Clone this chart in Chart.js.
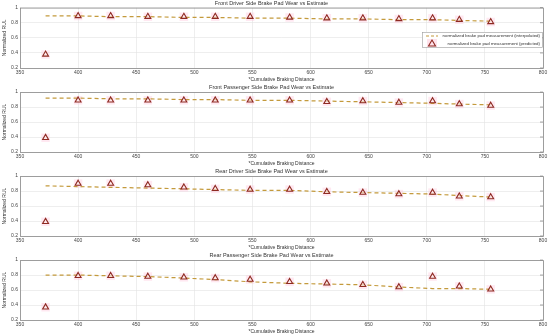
<!DOCTYPE html>
<html lang="en">
<head>
<meta charset="UTF-8">
<title>Brake Pad Wear vs Estimate</title>
<script src="https://cdn.jsdelivr.net/npm/chart.js"></script>
<style>
  body { margin: 0; background: #fff; }
  #wrap { position: relative; width: 550px; height: 336px; }
  .panel { position: absolute; left: 0; width: 550px; height: 84px; }
</style>
</head>
<body>
<div id="wrap">
  <div class="panel" style="top:0px"><canvas id="c0"></canvas></div>
  <div class="panel" style="top:84px"><canvas id="c1"></canvas></div>
  <div class="panel" style="top:168px"><canvas id="c2"></canvas></div>
  <div class="panel" style="top:252px"><canvas id="c3"></canvas></div>
</div>
<script>
// braking distance where each estimate was taken
var distance = [372, 400, 428, 460, 491, 518, 548, 582, 614, 645, 676, 705, 728, 755];
var xTicks = [350, 400, 450, 500, 550, 600, 650, 700, 750, 800];
var yTicks = [0.2, 0.4, 0.6, 0.8, 1];

var titles = [
    'Front Driver Side Brake Pad Wear vs Estimate',
    'Front Passenger Side Brake Pad Wear vs Estimate',
    'Rear Driver Side Brake Pad Wear vs Estimate',
    'Rear Passenger Side Brake Pad Wear vs Estimate'
];

var frontDriverInterp = [0.89, 0.89, 0.88, 0.88, 0.87, 0.87, 0.86, 0.86, 0.85, 0.85, 0.84, 0.84, 0.83, 0.82];
var frontDriverPred   = [0.38, 0.89, 0.89, 0.88, 0.88, 0.88, 0.88, 0.87, 0.86, 0.86, 0.85, 0.86, 0.84, 0.81];

var frontPassInterp = [0.92, 0.92, 0.91, 0.91, 0.90, 0.90, 0.89, 0.89, 0.88, 0.87, 0.86, 0.85, 0.84, 0.83];
var frontPassPred   = [0.39, 0.89, 0.89, 0.89, 0.89, 0.89, 0.89, 0.89, 0.87, 0.88, 0.86, 0.88, 0.84, 0.82];

var rearDriverInterp = [0.87, 0.86, 0.85, 0.84, 0.83, 0.82, 0.81, 0.81, 0.79, 0.78, 0.77, 0.76, 0.74, 0.72];
var rearDriverPred   = [0.39, 0.90, 0.90, 0.88, 0.85, 0.83, 0.82, 0.82, 0.79, 0.78, 0.76, 0.78, 0.73, 0.72];

var rearPassInterp = [0.80, 0.80, 0.79, 0.78, 0.76, 0.74, 0.71, 0.69, 0.68, 0.67, 0.64, 0.62, 0.62, 0.61];
var rearPassPred   = [0.37, 0.79, 0.79, 0.78, 0.77, 0.76, 0.74, 0.71, 0.69, 0.67, 0.64, 0.78, 0.65, 0.61];

var series = [
    [frontDriverInterp, frontDriverPred],
    [frontPassInterp, frontPassPred],
    [rearDriverInterp, rearDriverPred],
    [rearPassInterp, rearPassPred]
];

var FONT = 'Liberation Sans';
var lineColor = '#c49a3c';
var triColor = '#8e2a22';

function toPoints(vals) {
    return distance.map(function(d, i) { return {x: d, y: vals[i]}; });
}

// box around the plot area, like matlab axes
var boxPlugin = {
    id: 'box',
    afterDraw: function(chart) {
        var a = chart.chartArea, ctx = chart.ctx;
        ctx.save();
        ctx.strokeStyle = '#8a8a8a';
        ctx.lineWidth = 0.8;
        ctx.strokeRect(a.left + 0.5, a.top + 0.5, a.right - a.left, a.bottom - a.top);
        // small tick marks on the right side
        var ys = chart.scales.y;
        yTicks.forEach(function(v) {
            var py = ys.getPixelForValue(v);
            ctx.beginPath();
            ctx.moveTo(a.right - 3, py);
            ctx.lineTo(a.right, py);
            ctx.stroke();
        });
        ctx.restore();
    }
};

// legend drawn inside the first panel
var legendPlugin = {
    id: 'insideLegend',
    afterDraw: function(chart) {
        if (chart.canvas.id !== 'c0') return;
        var ctx = chart.ctx;
        var x0 = 422, y0 = 32, w = 120, h = 15;
        ctx.save();
        ctx.fillStyle = '#fff';
        ctx.fillRect(x0, y0, w, h);
        ctx.strokeStyle = '#9a9a9a';
        ctx.lineWidth = 0.6;
        ctx.strokeRect(x0 + 0.5, y0 + 0.5, w, h);

        ctx.strokeStyle = lineColor;
        ctx.lineWidth = 1.2;
        ctx.setLineDash([3, 2]);
        ctx.beginPath();
        ctx.moveTo(426, 36);
        ctx.lineTo(438, 36);
        ctx.stroke();
        ctx.setLineDash([]);

        ctx.fillStyle = 'rgba(255,190,210,0.45)';
        ctx.fillRect(427, 39, 10, 8);
        ctx.strokeStyle = triColor;
        ctx.lineWidth = 1.1;
        ctx.beginPath();
        ctx.moveTo(432, 40);
        ctx.lineTo(435.5, 46);
        ctx.lineTo(428.5, 46);
        ctx.closePath();
        ctx.stroke();

        ctx.fillStyle = '#333';
        ctx.font = '4.4px ' + FONT;
        ctx.textAlign = 'right';
        ctx.textBaseline = 'middle';
        ctx.fillText('normalized brake pad measurement (interpolated)', 540, 36);
        ctx.fillText('normalized brake pad measurement (predicted)', 540, 43.5);
        ctx.restore();
    }
};

function drawPanel(idx) {
    var ctx = document.getElementById('c' + idx).getContext('2d');
    var interp = series[idx][0], pred = series[idx][1];
    new Chart(ctx, {
        type: 'scatter',
        data: {
            datasets: [{
                label: 'normalized brake pad measurement (interpolated)',
                data: toPoints(interp),
                showLine: true,
                borderColor: lineColor,
                borderWidth: 1.2,
                borderDash: [4, 3],
                pointRadius: 0,
                order: 2
            }, {
                label: 'halo',
                data: toPoints(pred),
                pointStyle: 'rect',
                pointRadius: 6,
                backgroundColor: 'rgba(255,190,215,0.35)',
                borderWidth: 0,
                order: 3
            }, {
                label: 'normalized brake pad measurement (predicted)',
                data: toPoints(pred),
                pointStyle: 'triangle',
                pointRadius: 3.4,
                backgroundColor: 'rgba(255,235,235,0.6)',
                borderColor: triColor,
                borderWidth: 1.1,
                order: 1
            }]
        },
        options: {
            responsive: false,
            animation: false,
            layout: { padding: { left: 0, right: 7, top: 0, bottom: 0 } },
            plugins: {
                legend: { display: false },
                tooltip: { enabled: false },
                title: {
                    display: true,
                    text: titles[idx],
                    color: '#333',
                    font: { family: FONT, size: 5.5, weight: 'normal' },
                    padding: { top: idx === 0 ? 0 : 0.5, bottom: 1 }
                }
            },
            scales: {
                x: {
                    type: 'linear',
                    min: 350,
                    max: 800,
                    afterBuildTicks: function(s) { s.ticks = xTicks.map(function(v) { return {value: v}; }); },
                    grid: { color: '#e3e3e3', lineWidth: 0.6, drawTicks: false },
                    border: { display: false },
                    ticks: { color: '#444', font: { family: FONT, size: 5 }, padding: 2, maxRotation: 0 },
                    title: {
                        display: true,
                        text: '*Cumulative Braking Distance',
                        color: '#333',
                        font: { family: FONT, size: 5 },
                        padding: { top: 0, bottom: 1 }
                    },
                    afterFit: function(s) { s.height = 16; }
                },
                y: {
                    min: 0.2,
                    max: 1,
                    afterBuildTicks: function(s) { s.ticks = yTicks.map(function(v) { return {value: v}; }); },
                    grid: { color: '#e3e3e3', lineWidth: 0.6, drawTicks: false },
                    border: { display: false },
                    ticks: {
                        color: '#444',
                        font: { family: FONT, size: 5 },
                        padding: 2,
                        callback: function(v) { return String(Math.round(v * 10) / 10); }
                    },
                    title: {
                        display: true,
                        text: 'Normalized RUL',
                        color: '#333',
                        font: { family: FONT, size: 5 },
                        padding: { top: 2, bottom: 0 }
                    },
                    afterFit: function(s) { s.width = 20; }
                }
            }
        },
        plugins: [boxPlugin, legendPlugin]
    });
}

[0, 1, 2, 3].forEach(function(i) {
    var c = document.getElementById('c' + i);
    c.width = 550;
    c.height = 84;
    drawPanel(i);
});
</script>
</body>
</html>
